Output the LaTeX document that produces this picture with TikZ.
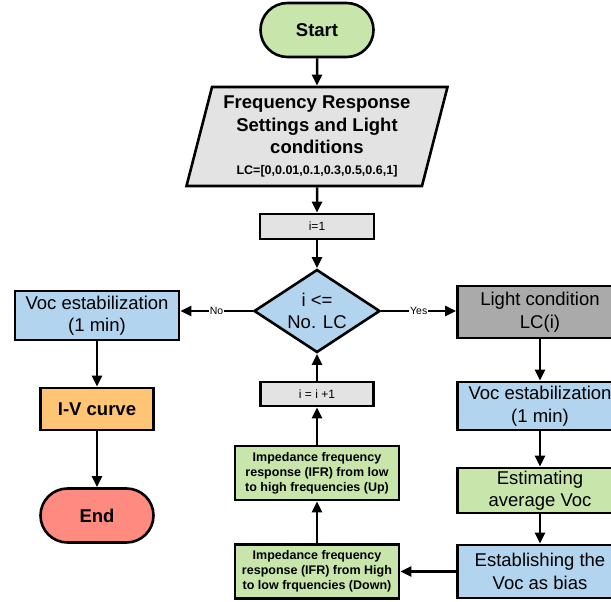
\documentclass[tikz,border=0pt]{standalone}
\usepackage{fontspec}
\setmainfont{Liberation Sans}
\usetikzlibrary{shapes.geometric,arrows.meta}
\definecolor{stepgreen}{RGB}{200,230,172}
\definecolor{stepblue}{RGB}{178,212,238}
\definecolor{stepgray}{RGB}{227,227,227}
\definecolor{lightcond}{RGB}{170,170,170}
\definecolor{ivorange}{RGB}{255,196,116}
\definecolor{endred}{RGB}{255,138,128}
\begin{document}
\begin{tikzpicture}[x=1pt,y=-1pt,
  box/.style={draw,line width=2.6pt,align=center,inner sep=2pt,font=\fontsize{18.5}{22.5}\selectfont},
  term/.style={box,rounded corners=27pt,font=\fontsize{18.5}{22}\selectfont\bfseries,minimum width=113pt,minimum height=54pt},
  small/.style={box,font=\fontsize{12}{14}\selectfont},
  ifr/.style={box,fill=stepgreen,font=\fontsize{12.5}{15}\selectfont\bfseries,minimum width=164pt,minimum height=54pt},
  side/.style={box,minimum width=165pt},
  flow/.style={line width=2.5pt,-{Triangle[length=11pt,width=10pt]}},
  lbl/.style={fill=white,inner sep=1pt,font=\fontsize{10.5}{12}\selectfont}]
\useasboundingbox (0,0) rectangle (611,602);
\clip (0,0) rectangle (611,602);
% main column
\node[term,fill=stepgreen] (start) at (317,30) {Start};
\node[trapezium,trapezium left angle=75,trapezium right angle=105,trapezium stretches=true,
      draw,line width=2.6pt,fill=stepgray,minimum width=262pt,minimum height=99pt,
      align=center,font=\fontsize{18.5}{22.5}\selectfont\bfseries] (set) at (317,136.5)
      {Frequency Response\\Settings and Light\\conditions\\[-1.5pt]{\fontsize{12.5}{14}\selectfont LC=[0,0.01,0.1,0.3,0.5,0.6,1]}};
\node[small,fill=stepgray,minimum width=114pt,minimum height=25pt] (init) at (317,226.5) {i=1};
\node[diamond,draw,line width=2.6pt,fill=stepblue,minimum width=126pt,minimum height=83pt,
      aspect=1.5,inner sep=0pt,align=center,font=\fontsize{18.5}{22}\selectfont] (dec) at (317,311) {i <=\\No. LC};
\node[small,fill=stepgray,minimum width=113pt,minimum height=24pt] (inc) at (317,394) {i = i +1};
\node[ifr] (up) at (317,473) {Impedance frequency\\response (IFR) from low\\to high frequencies (Up)};
\node[ifr] (down) at (317,571.5) {Impedance frequency\\response (IFR) from High\\to low frquencies (Down)};
% left column
\node[box,fill=stepblue,minimum width=164pt,minimum height=49pt] (vocl) at (97,315.5) {Voc estabilization\\(1 min)};
\node[box,fill=ivorange,font=\fontsize{18.5}{22}\selectfont\bfseries,minimum width=113pt,minimum height=42pt] (iv) at (97,409) {I-V curve};
\node[term,fill=endred] (stop) at (97,515.5) {End};
% right column
\node[side,fill=lightcond,minimum height=52pt] (light) at (540,312) {Light condition\\LC(i)};
\node[side,fill=stepblue,minimum height=48pt] (vocr) at (540,406) {Voc estabilization\\(1 min)};
\node[side,fill=stepgreen,minimum height=45pt] (avg) at (540,490.5) {Estimating\\average Voc};
\node[side,fill=stepblue,minimum height=53pt] (bias) at (540,571.5) {Establishing the\\Voc as bias};
% connectors
\draw[flow] (start) -- (set);
\draw[flow] (set) -- (init);
\draw[flow] (init) -- (dec);
\draw[flow] (dec.west) -- node[lbl] {No} (dec.west -| vocl.east);
\draw[flow] (dec.east) -- node[lbl] {Yes} (dec.east -| light.west);
\draw[flow] (vocl) -- (iv);
\draw[flow] (iv) -- (stop);
\draw[flow] (light) -- (vocr);
\draw[flow] (vocr) -- (avg);
\draw[flow] (avg) -- (bias);
\draw[flow] (bias) -- (down);
\draw[flow] (down) -- (up);
\draw[flow] (up) -- (inc);
\draw[flow] (inc) -- (dec);
\end{tikzpicture}
\end{document}
